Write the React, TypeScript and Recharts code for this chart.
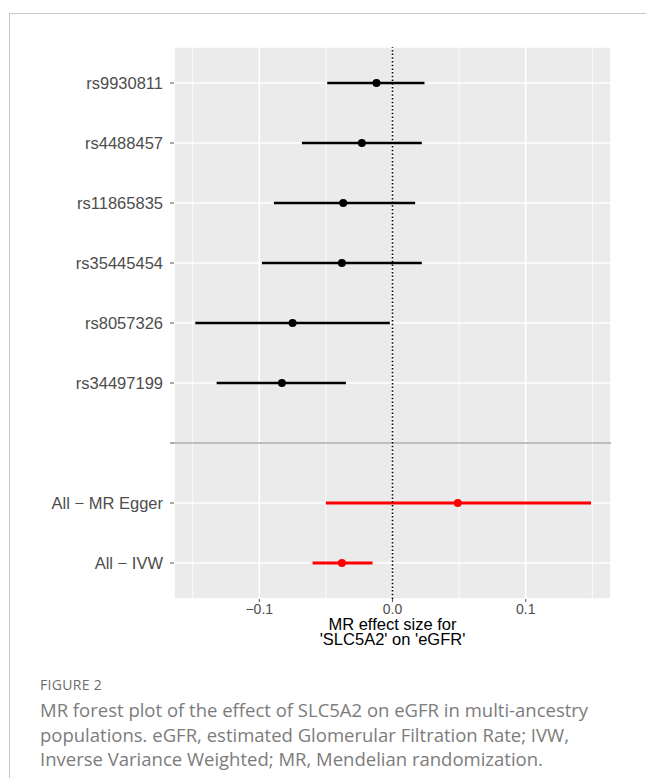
import React from 'react';
import {
  CartesianGrid,
  ErrorBar,
  ReferenceLine,
  Scatter,
  ScatterChart,
  XAxis,
  YAxis,
} from 'recharts';

// single SNP estimates (beta with 95% CI)
const snps = ['rs9930811', 'rs4488457', 'rs11865835', 'rs35445454', 'rs8057326', 'rs34497199'];
const snpBeta = [-0.012, -0.023, -0.037, -0.038, -0.075, -0.083];
const snpLow = [-0.049, -0.068, -0.089, -0.098, -0.148, -0.132];
const snpHigh = [0.024, 0.022, 0.017, 0.022, -0.002, -0.035];

// combined estimates
const methods = ['All − MR Egger', 'All − IVW'];
const methodBeta = [0.049, -0.038];
const methodLow = [-0.05, -0.06];
const methodHigh = [0.149, -0.015];

const rowLabels = [...snps, '', ...methods];
const xTicks = [-0.1, 0, 0.1];
const xMinor = [-0.15, -0.05, 0.05, 0.15];
const separatorRow = snps.length;

const snpData = snps.map((name, i) => ({
  name,
  row: i,
  beta: snpBeta[i],
  err: [snpBeta[i] - snpLow[i], snpHigh[i] - snpBeta[i]],
}));

const methodData = methods.map((name, i) => ({
  name,
  row: separatorRow + 1 + i,
  beta: methodBeta[i],
  err: [methodBeta[i] - methodLow[i], methodHigh[i] - methodBeta[i]],
}));

const tickFont = { fill: '#4d4d4d', fontFamily: 'Liberation Sans, Arial, sans-serif' };

const AxisTitle = (props: any) => {
  const { x, y, width } = props.viewBox;
  const cx = x + width / 2;
  return (
    <text
      x={cx}
      y={y + 30.5}
      textAnchor="middle"
      fill="#000"
      fontSize={16.5}
      fontFamily="Liberation Sans, Arial, sans-serif"
    >
      <tspan x={cx}>MR effect size for</tspan>
      <tspan x={cx} dy={15}>
        'SLC5A2' on 'eGFR'
      </tspan>
    </text>
  );
};

const dot = (color: string) => (p: any) => <circle cx={p.cx} cy={p.cy} r={4} fill={color} />;

export default function App() {
  return (
    <div style={{ position: 'absolute', left: 0, top: 0, width: 646, height: 778, background: '#fff' }}>
      <div
        style={{
          position: 'absolute',
          left: 9,
          top: 13,
          right: 0,
          bottom: 0,
          borderLeft: '1px solid #c8c8c8',
          borderTop: '1px solid #c8c8c8',
        }}
      />
      <div style={{ position: 'absolute', left: 0, top: 0 }}>
        <ScatterChart width={646} height={649} margin={{ top: 47, right: 35, bottom: 0, left: 0 }}>
          <CartesianGrid
            fill="#ebebeb"
            stroke="#fff"
            strokeWidth={0.8}
            horizontal={false}
            verticalValues={xMinor}
          />
          <CartesianGrid stroke="#fff" strokeWidth={1.7} />
          <XAxis
            type="number"
            dataKey="beta"
            domain={[-0.164, 0.164]}
            ticks={xTicks}
            allowDataOverflow
            tickFormatter={(v: number) => (v < 0 ? '−' : '') + Math.abs(v).toFixed(1)}
            tick={{ ...tickFont, fontSize: 14 }}
            tickLine={{ stroke: '#555' }}
            tickSize={3}
            tickMargin={2}
            axisLine={false}
            height={50}
            label={AxisTitle}
          />
          <YAxis
            type="number"
            dataKey="row"
            domain={[-0.6, rowLabels.length - 1 + 0.6]}
            ticks={rowLabels.map((_, i) => i)}
            interval={0}
            reversed
            allowDataOverflow
            tickFormatter={(v: number) => rowLabels[v] ?? ''}
            tick={{ ...tickFont, fontSize: 16.5 }}
            tickLine={{ stroke: '#555' }}
            tickSize={4}
            tickMargin={7}
            axisLine={false}
            width={174}
          />
          <ReferenceLine y={separatorRow} stroke="#bdbdbd" strokeWidth={2} />
          <Scatter data={snpData} shape={dot('#000')} isAnimationActive={false}>
            <ErrorBar dataKey="err" direction="x" width={0} stroke="#000" strokeWidth={2.5} isAnimationActive={false} />
          </Scatter>
          <Scatter data={methodData} shape={dot('#ff0000')} isAnimationActive={false}>
            <ErrorBar dataKey="err" direction="x" width={0} stroke="#ff0000" strokeWidth={3} isAnimationActive={false} />
          </Scatter>
          <ReferenceLine x={0} stroke="#000" strokeWidth={1.6} strokeDasharray="1.5 2.2" />
        </ScatterChart>
      </div>
      <div
        style={{
          position: 'absolute',
          left: 40,
          top: 675,
          fontFamily: 'Open Sans, Noto Sans, sans-serif',
          color: '#6e6e6e',
        }}
      >
        <div style={{ fontSize: 14, lineHeight: '20px', letterSpacing: 0.3 }}>FIGURE 2</div>
        <div style={{ fontSize: 18.5, lineHeight: '24.5px', whiteSpace: 'nowrap', marginTop: 3, color: '#7c7c7c' }}>
          MR forest plot of the effect of SLC5A2 on eGFR in multi-ancestry
          <br />
          populations. eGFR, estimated Glomerular Filtration Rate; IVW,
          <br />
          Inverse Variance Weighted; MR, Mendelian randomization.
        </div>
      </div>
    </div>
  );
}
